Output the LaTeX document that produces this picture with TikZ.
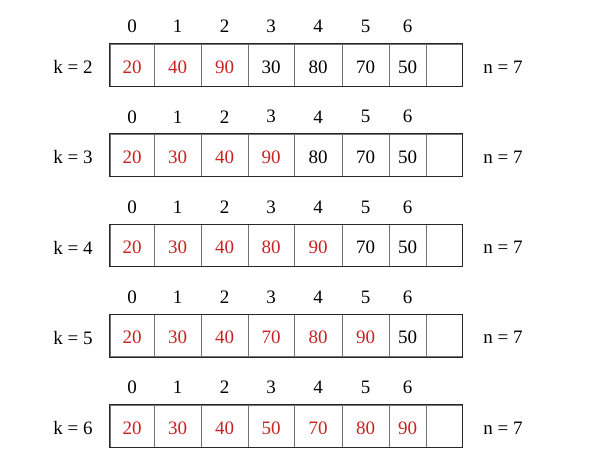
\documentclass[tikz,border=0pt]{standalone}
\usepackage{fontspec}
\setmainfont{Liberation Serif}
\usepackage{tikz}
\definecolor{sortred}{RGB}{200,35,35}
\tikzstyle{cellbox} = [draw=black!55, line width=0.9pt, rectangle,
    minimum height=42pt, inner sep=0pt]
\tikzstyle{rowframe} = [draw=black!85, line width=1pt]
\tikzstyle{sorted} = [text=sortred]
\tikzstyle{unsorted} = [text=black]
\tikzstyle{idx} = [inner sep=0pt]

\begin{document}
\begin{tikzpicture}[x=1pt, y=-1pt, font=\fontsize{19}{22}\selectfont]
    \useasboundingbox (0,0) rectangle (607,466);
    \foreach \r/\vals in {0/{20,40,90,30,80,70,50},
                          1/{20,30,40,90,80,70,50},
                          2/{20,30,40,80,90,70,50},
                          3/{20,30,40,70,80,90,50},
                          4/{20,30,40,50,70,80,90}}{
        \pgfmathsetmacro{\top}{44+90.25*\r}
        \pgfmathsetmacro{\mid}{\top+21}
        \pgfmathtruncatemacro{\k}{\r+2}
        % k and n labels
        \node (k\r) at (73, \mid+2) {k = \k};
        \node (n\r) at (503, \mid+2) {n = 7};
        % cells with index above
        \foreach \i/\xa/\xb in {0/110/154, 1/154/201, 2/201/248, 3/248/294,
                                4/294/342, 5/342/389, 6/389/426, 7/426/462}{
            \node[cellbox, minimum width=\xb-\xa] (c\r-\i)
                at ({(\xa+\xb)/2}, \mid) {};
        }
        \foreach \v [count=\j from 0] in \vals{
            \ifnum\j>\k \def\look{unsorted}\else \def\look{sorted}\fi
            \node[\look] (v\r-\j) at ([yshift=-2pt]c\r-\j.center) {\v};
            \node[idx] (i\r-\j) at ([yshift=17pt]c\r-\j.north) {\j};
        }
        \draw[rowframe] (c\r-0.north west) rectangle (c\r-7.south east);
    }
\end{tikzpicture}
\end{document}
